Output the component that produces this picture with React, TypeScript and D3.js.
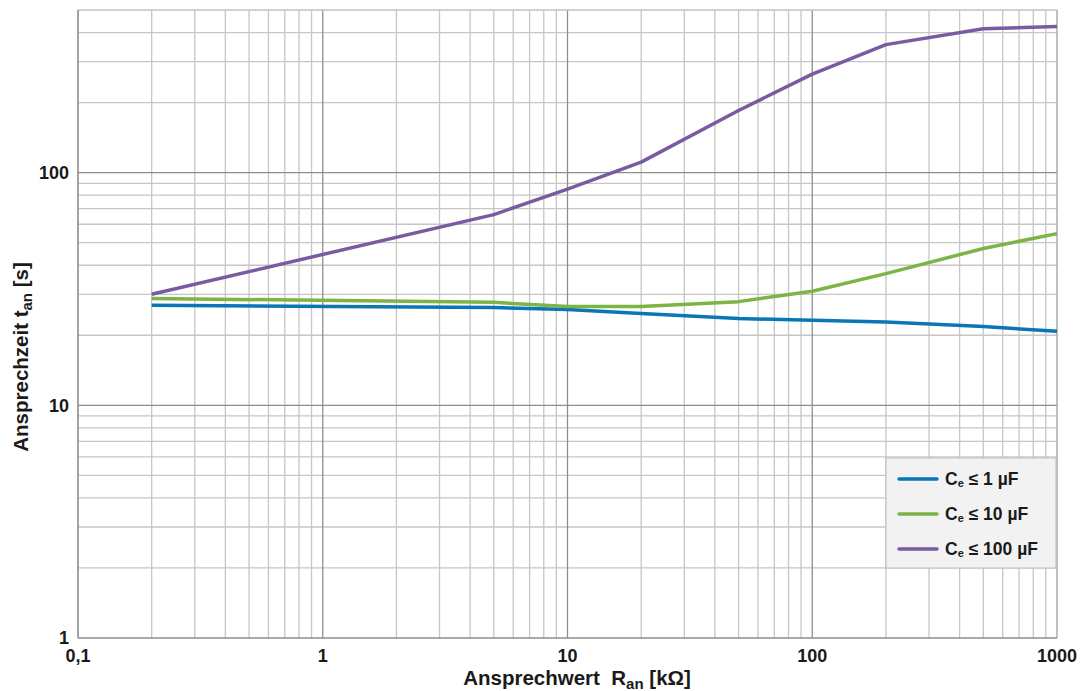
import React from "react";
import * as d3 from "d3";

const xValues = [0.2, 5, 10, 20, 50, 100, 200, 500, 1000];
const seriesBlue = [26.9, 26.3, 25.8, 24.8, 23.6, 23.2, 22.8, 21.8, 20.8];
const seriesGreen = [28.8, 27.7, 26.6, 26.6, 27.9, 30.9, 36.8, 47.2, 54.7];
const seriesPurple = [30, 66, 85, 111, 185, 265, 355, 415, 425];
const seriesNames = ["Cₑ ≤ 1 µF", "Cₑ ≤ 10 µF", "Cₑ ≤ 100 µF"];
const seriesColors = ["#0a76b6", "#7cb446", "#7a5ba1"];
const xTickValues = [0.1, 1, 10, 100, 1000];
const xTickLabels = ["0,1", "1", "10", "100", "1000"];
const yTickValues = [1, 10, 100];
const yTickLabels = ["1", "10", "100"];

const W = 1080, H = 691;
const left = 78, right = 1057, top = 10, bottom = 638;
const font = "'Liberation Sans', Arial, sans-serif";

export default function App() {
  const x = d3.scaleLog().domain([0.1, 1000]).range([left, right]);
  const y = d3.scaleLog().domain([1, 500]).range([bottom, top]);

  const xMinor: number[] = [];
  for (let e = -1; e < 3; e++) for (let k = 2; k <= 9; k++) xMinor.push(k * Math.pow(10, e));
  const yMinor: number[] = [];
  for (let e = 0; e < 3; e++) for (let k = 2; k <= 9; k++) { const v = k * Math.pow(10, e); if (v <= 500) yMinor.push(v); }

  const line = d3.line<[number, number]>().x(d => x(d[0])).y(d => y(d[1]));
  const all = [seriesBlue, seriesGreen, seriesPurple];

  const legX = 886, legY = 458, legW = 170, legH = 110;

  return (
    <svg width={W} height={H} style={{ position: "absolute", left: 0, top: 0 }}>
      <rect width={W} height={H} fill="#fff" />
      {xMinor.map((v, i) => (
        <line key={"xm" + i} x1={x(v)} x2={x(v)} y1={top} y2={bottom} stroke="#c6c6c6" strokeWidth={1.3} />
      ))}
      {yMinor.map((v, i) => (
        <line key={"ym" + i} x1={left} x2={right} y1={y(v)} y2={y(v)} stroke="#c6c6c6" strokeWidth={1.3} />
      ))}
      {[1, 10, 100].map((v, i) => (
        <line key={"xM" + i} x1={x(v)} x2={x(v)} y1={top} y2={bottom} stroke="#8e8e8e" strokeWidth={1.3} />
      ))}
      {[10, 100].map((v, i) => (
        <line key={"yM" + i} x1={left} x2={right} y1={y(v)} y2={y(v)} stroke="#8e8e8e" strokeWidth={1.3} />
      ))}
      <line x1={left} x2={right} y1={top} y2={top} stroke="#d0d0d0" strokeWidth={1.3} />
      <line x1={right} x2={right} y1={top} y2={bottom} stroke="#a0a0a0" strokeWidth={1.3} />
      <line x1={left} x2={left} y1={top} y2={bottom} stroke="#8e8e8e" strokeWidth={1.6} />
      <line x1={left} x2={right} y1={bottom} y2={bottom} stroke="#8e8e8e" strokeWidth={1.6} />

      {all.map((s, i) => (
        <path key={"s" + i} d={line(xValues.map((xv, j) => [xv, s[j]]) as [number, number][]) || ""}
          fill="none" stroke={seriesColors[i]} strokeWidth={3.5} strokeLinejoin="round" />
      ))}

      {yTickValues.map((v, i) => (
        <text key={"yt" + i} x={left - 9} y={y(v)} dy="0.35em" textAnchor="end"
          fontFamily={font} fontWeight="bold" fontSize={18} fill="#1a1a1a">{yTickLabels[i]}</text>
      ))}
      {xTickValues.map((v, i) => (
        <text key={"xt" + i} x={x(v)} y={656} dy="0.35em" textAnchor="middle"
          fontFamily={font} fontWeight="bold" fontSize={18} fill="#1a1a1a">{xTickLabels[i]}</text>
      ))}

      <text x={577} y={685} textAnchor="middle" fontFamily={font} fontWeight="bold" fontSize={20.5} fill="#1a1a1a">
        {"Ansprechwert\u00a0 R"}<tspan fontSize={15} dy={4}>an</tspan><tspan dy={-4}>{" [kΩ]"}</tspan>
      </text>
      <text transform={`translate(28,${357}) rotate(-90)`} textAnchor="middle" fontFamily={font} fontWeight="bold" fontSize={20.5} fill="#1a1a1a">
        Ansprechzeit t<tspan fontSize={15} dy={4}>an</tspan><tspan dy={-4}>{" [s]"}</tspan>
      </text>

      <rect x={legX} y={legY} width={legW} height={legH} fill="#f2f2f2" stroke="#bdbdbd" strokeWidth={1} />
      {seriesNames.map((n, i) => {
        const cy = legY + 21 + i * 35;
        return (
          <g key={"lg" + i}>
            <line x1={899} x2={937} y1={cy} y2={cy} stroke={seriesColors[i]} strokeWidth={3.5} strokeLinecap="round" />
            <text x={945} y={cy} dy="0.35em" fontFamily={font} fontWeight="bold" fontSize={17.5} fill="#1a1a1a">
              C<tspan fontSize={11} dy={2}>e</tspan><tspan dy={-2}>{" " + n.slice(3)}</tspan>
            </text>
          </g>
        );
      })}
    </svg>
  );
}
